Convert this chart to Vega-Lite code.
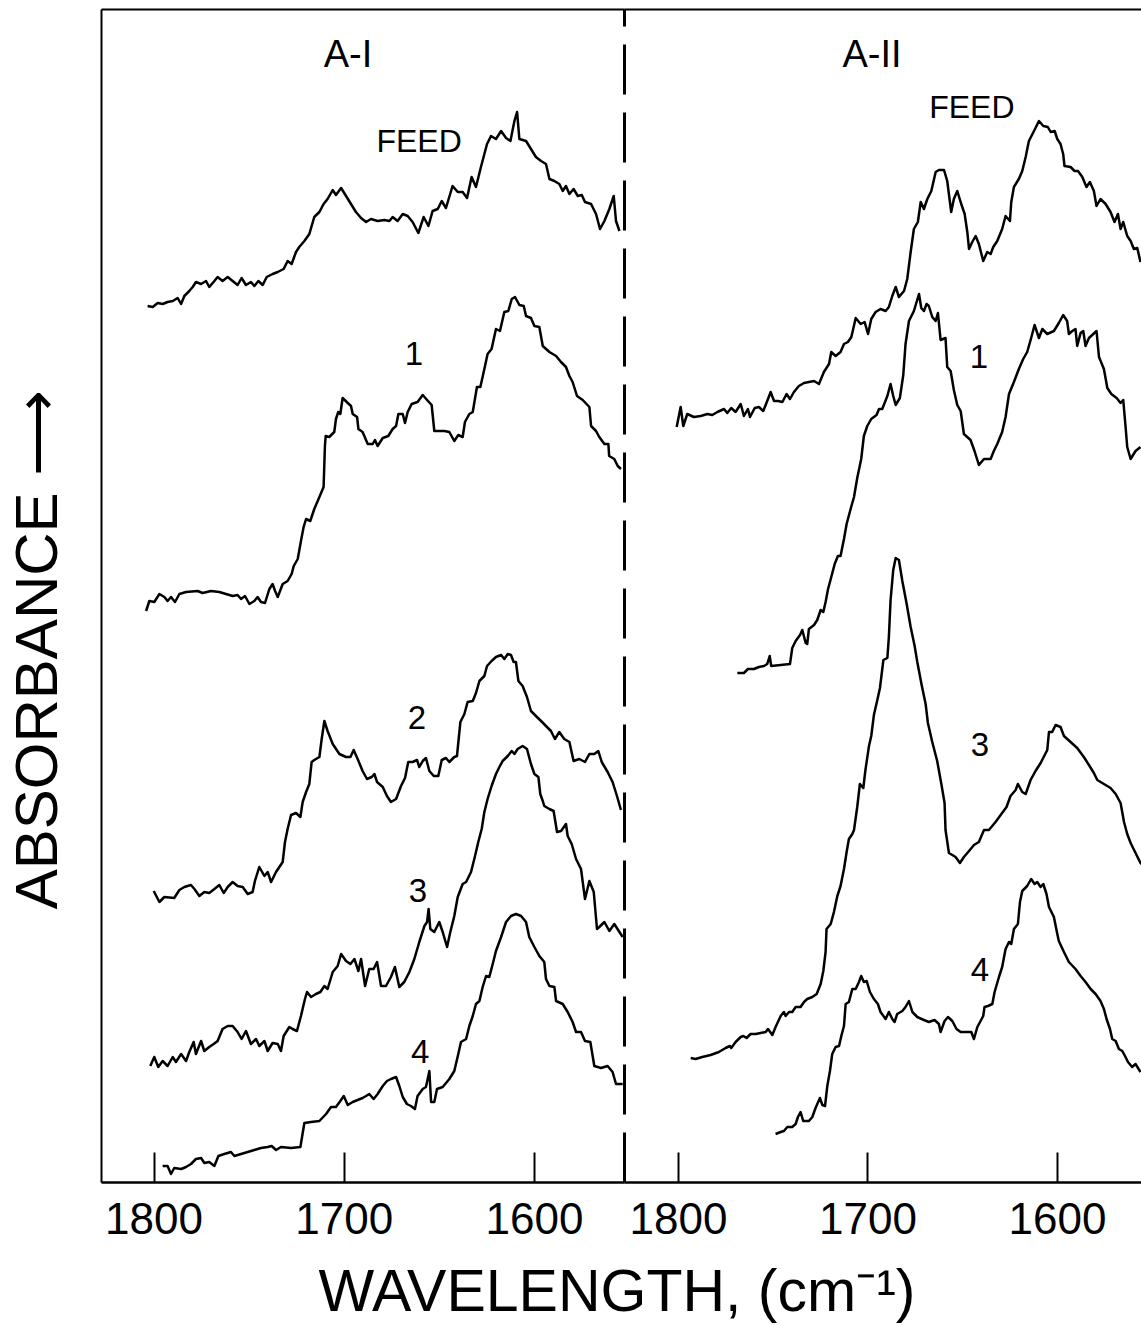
{
  "$schema": "https://vega.github.io/schema/vega-lite/v6.json",
  "background": "white",
  "padding": {"left": 8, "top": 9, "right": 0, "bottom": 5},
  "spacing": 0,
  "bounds": "flush",
  "config": {
    "view": {"stroke": null},
    "font": "Liberation Sans",
    "axis": {"grid": false, "domainColor": "black", "tickColor": "black", "labelColor": "black", "titleColor": "black"}
  },
  "title": {"text": "WAVELENGTH, (cm⁻¹)", "orient": "bottom", "anchor": "middle", "fontSize": 59, "fontWeight": "normal", "font": "Liberation Sans", "offset": 22, "dx": 42, "color": "black"},
  "datasets": {
    "labels": [
      {"p":"L","k":"head","t":"A-I","w":1697.8,"a":112.6},
      {"p":"L","k":"feed","t":"FEED","w":1660.4,"a":104.0},
      {"p":"L","k":"num","t":"1","w":1663.1,"a":82.7},
      {"p":"L","k":"num","t":"2","w":1661.5,"a":46.3},
      {"p":"L","k":"num","t":"3","w":1661.0,"a":29.0},
      {"p":"L","k":"num","t":"4","w":1659.9,"a":12.9},
      {"p":"R","k":"head","t":"A-II","w":1697.6,"a":112.6},
      {"p":"R","k":"feed","t":"FEED","w":1644.9,"a":107.4},
      {"p":"R","k":"num","t":"1","w":1641.2,"a":82.4},
      {"p":"R","k":"num","t":"3","w":1640.6,"a":43.6},
      {"p":"R","k":"num","t":"4","w":1640.6,"a":21.1}
    ],
    "left": [
      {"c":"FEED","w":1803.1,"a":87.6},{"c":"FEED","w":1800.4,"a":87.5},{"c":"FEED","w":1797.8,"a":87.9},{"c":"FEED","w":1795.2,"a":87.8},{"c":"FEED","w":1792.6,"a":88.0},{"c":"FEED","w":1789.9,"a":88.1},{"c":"FEED","w":1787.3,"a":88.4},{"c":"FEED","w":1785.5,"a":87.8},{"c":"FEED","w":1783.8,"a":88.6},{"c":"FEED","w":1781.2,"a":89.1},{"c":"FEED","w":1779.4,"a":89.5},{"c":"FEED","w":1777.7,"a":90.0},{"c":"FEED","w":1775.0,"a":89.8},{"c":"FEED","w":1772.4,"a":90.1},{"c":"FEED","w":1770.7,"a":89.5},{"c":"FEED","w":1768.0,"a":90.1},{"c":"FEED","w":1766.3,"a":90.5},{"c":"FEED","w":1763.7,"a":90.1},{"c":"FEED","w":1761.0,"a":90.5},{"c":"FEED","w":1758.4,"a":90.1},{"c":"FEED","w":1755.8,"a":89.7},{"c":"FEED","w":1753.7,"a":90.4},{"c":"FEED","w":1751.4,"a":89.7},{"c":"FEED","w":1748.8,"a":90.0},{"c":"FEED","w":1747.0,"a":89.6},{"c":"FEED","w":1744.9,"a":90.1},{"c":"FEED","w":1742.6,"a":89.7},{"c":"FEED","w":1740.5,"a":90.5},{"c":"FEED","w":1737.4,"a":90.8},{"c":"FEED","w":1734.7,"a":91.0},{"c":"FEED","w":1731.6,"a":91.3},{"c":"FEED","w":1729.5,"a":92.1},{"c":"FEED","w":1727.4,"a":91.8},{"c":"FEED","w":1725.1,"a":93.0},{"c":"FEED","w":1723.4,"a":93.5},{"c":"FEED","w":1720.7,"a":94.1},{"c":"FEED","w":1718.1,"a":94.8},{"c":"FEED","w":1715.5,"a":96.5},{"c":"FEED","w":1712.8,"a":97.0},{"c":"FEED","w":1710.6,"a":97.8},{"c":"FEED","w":1708.5,"a":98.3},{"c":"FEED","w":1705.8,"a":99.2},{"c":"FEED","w":1704.1,"a":98.7},{"c":"FEED","w":1701.4,"a":99.4},{"c":"FEED","w":1698.8,"a":98.6},{"c":"FEED","w":1696.2,"a":97.8},{"c":"FEED","w":1693.6,"a":97.0},{"c":"FEED","w":1690.9,"a":96.4},{"c":"FEED","w":1688.3,"a":96.0},{"c":"FEED","w":1685.7,"a":96.3},{"c":"FEED","w":1682.2,"a":96.1},{"c":"FEED","w":1678.7,"a":96.2},{"c":"FEED","w":1676.0,"a":96.1},{"c":"FEED","w":1674.3,"a":96.5},{"c":"FEED","w":1671.7,"a":96.1},{"c":"FEED","w":1669.0,"a":96.8},{"c":"FEED","w":1666.4,"a":96.6},{"c":"FEED","w":1663.8,"a":96.0},{"c":"FEED","w":1660.8,"a":94.9},{"c":"FEED","w":1658.0,"a":96.5},{"c":"FEED","w":1655.5,"a":95.6},{"c":"FEED","w":1653.3,"a":97.1},{"c":"FEED","w":1650.6,"a":97.3},{"c":"FEED","w":1648.5,"a":98.1},{"c":"FEED","w":1646.3,"a":97.4},{"c":"FEED","w":1642.8,"a":99.6},{"c":"FEED","w":1640.1,"a":99.0},{"c":"FEED","w":1637.5,"a":99.0},{"c":"FEED","w":1635.2,"a":98.4},{"c":"FEED","w":1632.8,"a":100.5},{"c":"FEED","w":1630.5,"a":99.5},{"c":"FEED","w":1627.9,"a":101.5},{"c":"FEED","w":1624.7,"a":103.8},{"c":"FEED","w":1622.6,"a":104.6},{"c":"FEED","w":1620.0,"a":104.3},{"c":"FEED","w":1617.3,"a":105.1},{"c":"FEED","w":1614.7,"a":104.4},{"c":"FEED","w":1612.4,"a":104.1},{"c":"FEED","w":1610.3,"a":106.1},{"c":"FEED","w":1608.9,"a":107.0},{"c":"FEED","w":1607.7,"a":104.3},{"c":"FEED","w":1604.2,"a":104.1},{"c":"FEED","w":1601.6,"a":103.3},{"c":"FEED","w":1599.0,"a":102.5},{"c":"FEED","w":1596.3,"a":102.1},{"c":"FEED","w":1593.7,"a":101.8},{"c":"FEED","w":1591.9,"a":100.3},{"c":"FEED","w":1589.3,"a":100.1},{"c":"FEED","w":1586.7,"a":99.8},{"c":"FEED","w":1584.9,"a":99.1},{"c":"FEED","w":1583.2,"a":99.6},{"c":"FEED","w":1581.4,"a":98.8},{"c":"FEED","w":1579.2,"a":99.3},{"c":"FEED","w":1577.0,"a":98.6},{"c":"FEED","w":1574.9,"a":98.7},{"c":"FEED","w":1573.2,"a":98.0},{"c":"FEED","w":1570.0,"a":97.8},{"c":"FEED","w":1567.4,"a":96.8},{"c":"FEED","w":1565.3,"a":95.3},{"c":"FEED","w":1563.0,"a":96.1},{"c":"FEED","w":1560.4,"a":97.3},{"c":"FEED","w":1558.1,"a":98.6},{"c":"FEED","w":1556.9,"a":96.1},{"c":"FEED","w":1555.1,"a":95.1},
      {"c":"1","w":1803.9,"a":57.1},{"c":"1","w":1802.2,"a":58.1},{"c":"1","w":1799.6,"a":58.0},{"c":"1","w":1796.9,"a":58.8},{"c":"1","w":1794.3,"a":58.5},{"c":"1","w":1792.6,"a":58.1},{"c":"1","w":1790.8,"a":58.5},{"c":"1","w":1788.7,"a":58.0},{"c":"1","w":1786.4,"a":58.8},{"c":"1","w":1782.9,"a":59.0},{"c":"1","w":1776.8,"a":59.1},{"c":"1","w":1774.2,"a":58.9},{"c":"1","w":1769.8,"a":59.1},{"c":"1","w":1765.4,"a":59.0},{"c":"1","w":1761.9,"a":58.8},{"c":"1","w":1758.4,"a":58.6},{"c":"1","w":1755.8,"a":58.7},{"c":"1","w":1754.0,"a":58.3},{"c":"1","w":1751.9,"a":58.6},{"c":"1","w":1749.6,"a":57.8},{"c":"1","w":1747.0,"a":58.1},{"c":"1","w":1745.3,"a":58.5},{"c":"1","w":1743.5,"a":58.0},{"c":"1","w":1741.4,"a":57.9},{"c":"1","w":1739.1,"a":59.3},{"c":"1","w":1737.4,"a":59.8},{"c":"1","w":1736.1,"a":59.1},{"c":"1","w":1734.7,"a":58.5},{"c":"1","w":1732.1,"a":59.8},{"c":"1","w":1729.5,"a":60.1},{"c":"1","w":1727.4,"a":60.8},{"c":"1","w":1726.3,"a":61.6},{"c":"1","w":1724.2,"a":62.3},{"c":"1","w":1722.5,"a":64.1},{"c":"1","w":1721.1,"a":65.5},{"c":"1","w":1719.8,"a":66.3},{"c":"1","w":1717.6,"a":66.1},{"c":"1","w":1715.5,"a":67.3},{"c":"1","w":1712.8,"a":68.5},{"c":"1","w":1710.6,"a":69.5},{"c":"1","w":1709.9,"a":73.6},{"c":"1","w":1709.5,"a":74.6},{"c":"1","w":1707.6,"a":74.5},{"c":"1","w":1705.0,"a":75.0},{"c":"1","w":1704.1,"a":76.3},{"c":"1","w":1702.9,"a":77.0},{"c":"1","w":1701.8,"a":76.8},{"c":"1","w":1700.6,"a":78.4},{"c":"1","w":1697.9,"a":77.9},{"c":"1","w":1696.2,"a":77.6},{"c":"1","w":1695.3,"a":76.8},{"c":"1","w":1693.0,"a":76.5},{"c":"1","w":1692.3,"a":75.3},{"c":"1","w":1690.1,"a":75.0},{"c":"1","w":1687.4,"a":73.8},{"c":"1","w":1684.8,"a":73.8},{"c":"1","w":1683.6,"a":74.2},{"c":"1","w":1682.2,"a":73.6},{"c":"1","w":1679.5,"a":74.4},{"c":"1","w":1676.6,"a":74.6},{"c":"1","w":1674.3,"a":75.3},{"c":"1","w":1672.5,"a":75.6},{"c":"1","w":1671.3,"a":76.8},{"c":"1","w":1669.0,"a":76.8},{"c":"1","w":1667.8,"a":75.9},{"c":"1","w":1666.4,"a":77.0},{"c":"1","w":1664.3,"a":77.8},{"c":"1","w":1661.2,"a":78.0},{"c":"1","w":1658.5,"a":78.7},{"c":"1","w":1656.2,"a":78.2},{"c":"1","w":1653.8,"a":77.7},{"c":"1","w":1652.4,"a":75.1},{"c":"1","w":1649.8,"a":75.1},{"c":"1","w":1647.1,"a":75.1},{"c":"1","w":1644.5,"a":75.0},{"c":"1","w":1641.9,"a":74.1},{"c":"1","w":1639.8,"a":74.7},{"c":"1","w":1637.5,"a":74.5},{"c":"1","w":1636.3,"a":76.0},{"c":"1","w":1634.0,"a":76.8},{"c":"1","w":1632.2,"a":77.0},{"c":"1","w":1630.0,"a":79.5},{"c":"1","w":1628.2,"a":79.5},{"c":"1","w":1626.1,"a":81.3},{"c":"1","w":1624.4,"a":82.8},{"c":"1","w":1622.3,"a":83.3},{"c":"1","w":1620.0,"a":85.3},{"c":"1","w":1617.9,"a":85.1},{"c":"1","w":1615.6,"a":87.0},{"c":"1","w":1613.5,"a":87.1},{"c":"1","w":1611.7,"a":88.3},{"c":"1","w":1610.0,"a":88.5},{"c":"1","w":1607.7,"a":87.7},{"c":"1","w":1605.4,"a":87.6},{"c":"1","w":1604.2,"a":86.6},{"c":"1","w":1601.6,"a":86.4},{"c":"1","w":1599.8,"a":85.6},{"c":"1","w":1597.2,"a":85.5},{"c":"1","w":1595.4,"a":83.6},{"c":"1","w":1591.9,"a":83.0},{"c":"1","w":1588.4,"a":82.6},{"c":"1","w":1585.8,"a":82.0},{"c":"1","w":1583.2,"a":81.5},{"c":"1","w":1581.4,"a":80.6},{"c":"1","w":1579.7,"a":80.0},{"c":"1","w":1577.4,"a":78.6},{"c":"1","w":1574.4,"a":78.2},{"c":"1","w":1570.9,"a":77.5},{"c":"1","w":1570.0,"a":75.6},{"c":"1","w":1567.4,"a":75.1},{"c":"1","w":1565.7,"a":74.5},{"c":"1","w":1563.0,"a":73.8},{"c":"1","w":1560.9,"a":73.8},{"c":"1","w":1560.5,"a":72.6},{"c":"1","w":1557.8,"a":72.3},{"c":"1","w":1556.0,"a":71.6},{"c":"1","w":1554.3,"a":71.3},
      {"c":"2","w":1799.9,"a":29.1},{"c":"2","w":1796.9,"a":28.0},{"c":"2","w":1794.3,"a":28.5},{"c":"2","w":1789.1,"a":28.4},{"c":"2","w":1786.4,"a":29.2},{"c":"2","w":1783.8,"a":29.5},{"c":"2","w":1780.3,"a":29.7},{"c":"2","w":1778.5,"a":29.3},{"c":"2","w":1775.9,"a":28.6},{"c":"2","w":1773.3,"a":29.0},{"c":"2","w":1770.7,"a":28.9},{"c":"2","w":1768.0,"a":29.3},{"c":"2","w":1765.4,"a":29.7},{"c":"2","w":1763.1,"a":28.9},{"c":"2","w":1761.0,"a":29.5},{"c":"2","w":1758.4,"a":30.0},{"c":"2","w":1755.8,"a":29.6},{"c":"2","w":1753.1,"a":29.5},{"c":"2","w":1750.5,"a":28.8},{"c":"2","w":1747.9,"a":29.0},{"c":"2","w":1746.7,"a":30.1},{"c":"2","w":1744.4,"a":31.5},{"c":"2","w":1741.7,"a":30.6},{"c":"2","w":1740.0,"a":31.0},{"c":"2","w":1738.2,"a":30.0},{"c":"2","w":1735.6,"a":31.0},{"c":"2","w":1732.1,"a":32.0},{"c":"2","w":1730.9,"a":34.0},{"c":"2","w":1729.5,"a":35.3},{"c":"2","w":1727.7,"a":36.7},{"c":"2","w":1725.1,"a":36.9},{"c":"2","w":1722.8,"a":36.5},{"c":"2","w":1721.6,"a":38.0},{"c":"2","w":1719.8,"a":39.0},{"c":"2","w":1718.1,"a":39.8},{"c":"2","w":1716.9,"a":42.0},{"c":"2","w":1715.5,"a":42.2},{"c":"2","w":1712.8,"a":42.5},{"c":"2","w":1711.6,"a":44.3},{"c":"2","w":1710.2,"a":46.1},{"c":"2","w":1708.5,"a":45.1},{"c":"2","w":1705.8,"a":43.8},{"c":"2","w":1702.3,"a":42.8},{"c":"2","w":1698.8,"a":42.5},{"c":"2","w":1696.5,"a":42.5},{"c":"2","w":1694.8,"a":43.2},{"c":"2","w":1692.7,"a":42.3},{"c":"2","w":1690.1,"a":41.1},{"c":"2","w":1687.8,"a":40.3},{"c":"2","w":1685.3,"a":40.5},{"c":"2","w":1683.9,"a":40.8},{"c":"2","w":1682.5,"a":40.0},{"c":"2","w":1679.5,"a":39.5},{"c":"2","w":1677.3,"a":38.6},{"c":"2","w":1675.2,"a":38.0},{"c":"2","w":1672.5,"a":38.3},{"c":"2","w":1669.9,"a":39.6},{"c":"2","w":1667.8,"a":40.4},{"c":"2","w":1666.1,"a":42.0},{"c":"2","w":1663.8,"a":42.0},{"c":"2","w":1661.5,"a":42.2},{"c":"2","w":1660.3,"a":41.5},{"c":"2","w":1658.5,"a":42.1},{"c":"2","w":1656.8,"a":42.4},{"c":"2","w":1655.0,"a":41.1},{"c":"2","w":1652.7,"a":40.6},{"c":"2","w":1650.3,"a":40.6},{"c":"2","w":1648.5,"a":42.2},{"c":"2","w":1646.3,"a":42.4},{"c":"2","w":1644.5,"a":42.0},{"c":"2","w":1641.9,"a":42.5},{"c":"2","w":1640.5,"a":42.6},{"c":"2","w":1638.7,"a":46.0},{"c":"2","w":1636.6,"a":46.8},{"c":"2","w":1634.9,"a":48.0},{"c":"2","w":1632.2,"a":48.1},{"c":"2","w":1630.5,"a":48.9},{"c":"2","w":1628.7,"a":50.1},{"c":"2","w":1626.1,"a":50.6},{"c":"2","w":1624.7,"a":51.6},{"c":"2","w":1622.3,"a":52.1},{"c":"2","w":1620.0,"a":52.5},{"c":"2","w":1617.3,"a":52.7},{"c":"2","w":1615.6,"a":52.3},{"c":"2","w":1613.8,"a":52.8},{"c":"2","w":1612.1,"a":52.7},{"c":"2","w":1610.7,"a":52.0},{"c":"2","w":1609.5,"a":52.0},{"c":"2","w":1608.2,"a":50.1},{"c":"2","w":1606.0,"a":49.6},{"c":"2","w":1603.7,"a":48.5},{"c":"2","w":1601.6,"a":47.1},{"c":"2","w":1599.0,"a":46.6},{"c":"2","w":1596.3,"a":46.1},{"c":"2","w":1593.7,"a":45.6},{"c":"2","w":1591.1,"a":45.1},{"c":"2","w":1589.0,"a":44.3},{"c":"2","w":1586.7,"a":45.0},{"c":"2","w":1584.1,"a":44.3},{"c":"2","w":1581.4,"a":44.0},{"c":"2","w":1579.2,"a":42.1},{"c":"2","w":1576.2,"a":42.3},{"c":"2","w":1573.2,"a":42.0},{"c":"2","w":1570.9,"a":42.8},{"c":"2","w":1568.3,"a":42.8},{"c":"2","w":1566.2,"a":43.1},{"c":"2","w":1564.4,"a":42.0},{"c":"2","w":1561.3,"a":41.0},{"c":"2","w":1558.7,"a":40.0},{"c":"2","w":1556.4,"a":38.6},{"c":"2","w":1554.3,"a":37.2},
      {"c":"3","w":1801.7,"a":11.6},{"c":"3","w":1799.6,"a":12.5},{"c":"3","w":1797.5,"a":11.5},{"c":"3","w":1795.2,"a":12.1},{"c":"3","w":1792.6,"a":11.6},{"c":"3","w":1789.9,"a":12.5},{"c":"3","w":1788.2,"a":12.0},{"c":"3","w":1785.5,"a":12.8},{"c":"3","w":1782.9,"a":12.1},{"c":"3","w":1781.2,"a":13.0},{"c":"3","w":1778.9,"a":14.0},{"c":"3","w":1777.7,"a":12.8},{"c":"3","w":1775.0,"a":14.1},{"c":"3","w":1773.3,"a":13.1},{"c":"3","w":1770.7,"a":13.5},{"c":"3","w":1768.4,"a":13.8},{"c":"3","w":1766.3,"a":14.1},{"c":"3","w":1763.7,"a":15.3},{"c":"3","w":1761.0,"a":15.6},{"c":"3","w":1758.4,"a":15.6},{"c":"3","w":1755.8,"a":15.0},{"c":"3","w":1753.7,"a":14.3},{"c":"3","w":1751.4,"a":15.1},{"c":"3","w":1748.8,"a":13.8},{"c":"3","w":1746.1,"a":14.3},{"c":"3","w":1744.4,"a":13.6},{"c":"3","w":1741.7,"a":14.1},{"c":"3","w":1740.0,"a":13.1},{"c":"3","w":1737.4,"a":13.9},{"c":"3","w":1734.7,"a":13.8},{"c":"3","w":1733.0,"a":13.1},{"c":"3","w":1731.6,"a":14.6},{"c":"3","w":1728.6,"a":15.5},{"c":"3","w":1726.9,"a":15.3},{"c":"3","w":1724.6,"a":15.1},{"c":"3","w":1722.5,"a":16.6},{"c":"3","w":1720.4,"a":18.3},{"c":"3","w":1719.3,"a":19.0},{"c":"3","w":1717.2,"a":18.5},{"c":"3","w":1714.6,"a":18.8},{"c":"3","w":1712.3,"a":19.0},{"c":"3","w":1710.2,"a":19.6},{"c":"3","w":1708.5,"a":19.3},{"c":"3","w":1705.8,"a":21.0},{"c":"3","w":1703.2,"a":21.6},{"c":"3","w":1701.4,"a":22.8},{"c":"3","w":1698.8,"a":22.1},{"c":"3","w":1696.5,"a":21.8},{"c":"3","w":1694.4,"a":22.3},{"c":"3","w":1692.3,"a":21.1},{"c":"3","w":1690.9,"a":22.3},{"c":"3","w":1688.8,"a":19.6},{"c":"3","w":1686.6,"a":21.3},{"c":"3","w":1684.3,"a":21.3},{"c":"3","w":1682.5,"a":22.0},{"c":"3","w":1680.4,"a":19.6},{"c":"3","w":1677.8,"a":19.6},{"c":"3","w":1675.2,"a":20.5},{"c":"3","w":1673.1,"a":21.5},{"c":"3","w":1670.8,"a":19.5},{"c":"3","w":1668.2,"a":20.0},{"c":"3","w":1665.5,"a":21.0},{"c":"3","w":1662.9,"a":22.3},{"c":"3","w":1660.3,"a":24.0},{"c":"3","w":1657.6,"a":25.6},{"c":"3","w":1656.2,"a":26.0},{"c":"3","w":1655.4,"a":27.3},{"c":"3","w":1654.5,"a":25.3},{"c":"3","w":1652.4,"a":25.0},{"c":"3","w":1649.8,"a":26.0},{"c":"3","w":1648.0,"a":25.0},{"c":"3","w":1645.7,"a":23.5},{"c":"3","w":1644.0,"a":25.0},{"c":"3","w":1641.9,"a":26.6},{"c":"3","w":1640.1,"a":28.5},{"c":"3","w":1637.5,"a":29.8},{"c":"3","w":1635.7,"a":30.0},{"c":"3","w":1633.1,"a":31.0},{"c":"3","w":1631.0,"a":32.6},{"c":"3","w":1629.3,"a":34.0},{"c":"3","w":1627.5,"a":35.3},{"c":"3","w":1626.1,"a":37.0},{"c":"3","w":1624.4,"a":38.3},{"c":"3","w":1622.3,"a":39.6},{"c":"3","w":1620.0,"a":40.8},{"c":"3","w":1618.2,"a":41.5},{"c":"3","w":1616.5,"a":42.1},{"c":"3","w":1613.8,"a":42.6},{"c":"3","w":1611.7,"a":43.1},{"c":"3","w":1610.3,"a":42.8},{"c":"3","w":1608.6,"a":43.3},{"c":"3","w":1606.0,"a":43.6},{"c":"3","w":1603.7,"a":43.3},{"c":"3","w":1601.6,"a":41.8},{"c":"3","w":1599.8,"a":40.8},{"c":"3","w":1597.7,"a":40.5},{"c":"3","w":1596.7,"a":38.8},{"c":"3","w":1595.4,"a":38.1},{"c":"3","w":1594.6,"a":37.6},{"c":"3","w":1591.9,"a":37.3},{"c":"3","w":1589.7,"a":37.1},{"c":"3","w":1587.9,"a":35.0},{"c":"3","w":1585.8,"a":35.1},{"c":"3","w":1583.2,"a":35.8},{"c":"3","w":1582.3,"a":34.6},{"c":"3","w":1580.2,"a":33.8},{"c":"3","w":1577.9,"a":32.3},{"c":"3","w":1575.3,"a":31.3},{"c":"3","w":1573.2,"a":28.3},{"c":"3","w":1570.9,"a":30.1},{"c":"3","w":1568.6,"a":29.0},{"c":"3","w":1566.9,"a":25.3},{"c":"3","w":1565.7,"a":25.5},{"c":"3","w":1563.0,"a":26.0},{"c":"3","w":1560.4,"a":25.1},{"c":"3","w":1557.8,"a":25.8},{"c":"3","w":1555.1,"a":25.0},{"c":"3","w":1553.4,"a":24.5},
      {"c":"4","w":1795.2,"a":1.6},{"c":"4","w":1792.6,"a":1.6},{"c":"4","w":1790.8,"a":0.8},{"c":"4","w":1789.1,"a":1.4},{"c":"4","w":1785.5,"a":1.3},{"c":"4","w":1782.9,"a":1.5},{"c":"4","w":1780.3,"a":1.8},{"c":"4","w":1777.7,"a":2.3},{"c":"4","w":1775.0,"a":2.4},{"c":"4","w":1773.3,"a":1.9},{"c":"4","w":1770.7,"a":2.0},{"c":"4","w":1768.0,"a":1.6},{"c":"4","w":1765.9,"a":2.6},{"c":"4","w":1762.8,"a":2.8},{"c":"4","w":1759.3,"a":3.0},{"c":"4","w":1757.5,"a":2.6},{"c":"4","w":1754.0,"a":2.8},{"c":"4","w":1750.5,"a":3.0},{"c":"4","w":1747.0,"a":3.2},{"c":"4","w":1743.5,"a":3.4},{"c":"4","w":1740.0,"a":3.5},{"c":"4","w":1737.9,"a":3.6},{"c":"4","w":1735.6,"a":3.2},{"c":"4","w":1733.0,"a":3.5},{"c":"4","w":1727.7,"a":3.4},{"c":"4","w":1722.8,"a":3.5},{"c":"4","w":1720.7,"a":5.9},{"c":"4","w":1717.2,"a":6.0},{"c":"4","w":1712.8,"a":6.1},{"c":"4","w":1709.3,"a":6.8},{"c":"4","w":1706.7,"a":7.5},{"c":"4","w":1704.1,"a":7.5},{"c":"4","w":1701.8,"a":8.1},{"c":"4","w":1700.0,"a":8.6},{"c":"4","w":1697.9,"a":7.7},{"c":"4","w":1695.3,"a":8.0},{"c":"4","w":1692.7,"a":8.2},{"c":"4","w":1690.1,"a":8.4},{"c":"4","w":1688.3,"a":8.6},{"c":"4","w":1686.6,"a":8.8},{"c":"4","w":1684.3,"a":8.3},{"c":"4","w":1682.2,"a":8.8},{"c":"4","w":1679.5,"a":9.6},{"c":"4","w":1677.3,"a":10.1},{"c":"4","w":1675.2,"a":10.3},{"c":"4","w":1672.5,"a":10.5},{"c":"4","w":1670.8,"a":9.6},{"c":"4","w":1669.0,"a":8.5},{"c":"4","w":1666.8,"a":7.8},{"c":"4","w":1664.7,"a":7.6},{"c":"4","w":1662.6,"a":7.3},{"c":"4","w":1661.2,"a":8.6},{"c":"4","w":1658.5,"a":9.3},{"c":"4","w":1656.8,"a":9.5},{"c":"4","w":1655.0,"a":11.1},{"c":"4","w":1654.1,"a":8.0},{"c":"4","w":1652.4,"a":8.0},{"c":"4","w":1651.0,"a":9.3},{"c":"4","w":1648.0,"a":9.5},{"c":"4","w":1644.5,"a":10.3},{"c":"4","w":1641.9,"a":11.1},{"c":"4","w":1639.8,"a":12.8},{"c":"4","w":1638.4,"a":14.0},{"c":"4","w":1635.7,"a":14.3},{"c":"4","w":1634.0,"a":15.6},{"c":"4","w":1632.2,"a":16.6},{"c":"4","w":1630.5,"a":17.8},{"c":"4","w":1628.7,"a":18.1},{"c":"4","w":1627.0,"a":19.5},{"c":"4","w":1625.2,"a":20.6},{"c":"4","w":1623.5,"a":20.5},{"c":"4","w":1621.7,"a":21.8},{"c":"4","w":1620.0,"a":23.1},{"c":"4","w":1617.3,"a":24.5},{"c":"4","w":1614.7,"a":26.0},{"c":"4","w":1612.1,"a":26.6},{"c":"4","w":1609.5,"a":26.8},{"c":"4","w":1606.8,"a":26.6},{"c":"4","w":1604.2,"a":26.0},{"c":"4","w":1602.5,"a":24.5},{"c":"4","w":1599.8,"a":23.5},{"c":"4","w":1597.2,"a":22.6},{"c":"4","w":1594.6,"a":22.0},{"c":"4","w":1593.7,"a":20.3},{"c":"4","w":1591.9,"a":19.6},{"c":"4","w":1589.3,"a":19.5},{"c":"4","w":1588.4,"a":18.1},{"c":"4","w":1584.9,"a":17.8},{"c":"4","w":1582.3,"a":17.0},{"c":"4","w":1579.7,"a":16.0},{"c":"4","w":1577.9,"a":15.0},{"c":"4","w":1575.3,"a":15.0},{"c":"4","w":1573.2,"a":14.1},{"c":"4","w":1570.4,"a":14.0},{"c":"4","w":1568.3,"a":11.6},{"c":"4","w":1564.8,"a":11.4},{"c":"4","w":1561.3,"a":11.6},{"c":"4","w":1558.7,"a":11.0},{"c":"4","w":1556.9,"a":9.8},{"c":"4","w":1553.4,"a":9.8}
    ],
    "right": [
      {"c":"FEED","w":1800.7,"a":75.5},{"c":"FEED","w":1798.6,"a":77.5},{"c":"FEED","w":1797.2,"a":75.6},{"c":"FEED","w":1795.1,"a":76.8},{"c":"FEED","w":1791.6,"a":76.5},{"c":"FEED","w":1788.0,"a":76.6},{"c":"FEED","w":1784.5,"a":76.8},{"c":"FEED","w":1781.9,"a":76.7},{"c":"FEED","w":1779.2,"a":77.0},{"c":"FEED","w":1775.7,"a":77.3},{"c":"FEED","w":1774.0,"a":76.9},{"c":"FEED","w":1771.9,"a":77.4},{"c":"FEED","w":1769.6,"a":77.0},{"c":"FEED","w":1766.9,"a":77.8},{"c":"FEED","w":1765.2,"a":76.6},{"c":"FEED","w":1763.1,"a":77.3},{"c":"FEED","w":1762.0,"a":76.5},{"c":"FEED","w":1759.5,"a":77.4},{"c":"FEED","w":1757.3,"a":77.5},{"c":"FEED","w":1755.0,"a":77.1},{"c":"FEED","w":1752.9,"a":78.1},{"c":"FEED","w":1751.1,"a":79.0},{"c":"FEED","w":1749.3,"a":78.1},{"c":"FEED","w":1747.2,"a":78.1},{"c":"FEED","w":1744.9,"a":78.0},{"c":"FEED","w":1742.7,"a":78.8},{"c":"FEED","w":1740.9,"a":78.3},{"c":"FEED","w":1738.8,"a":79.0},{"c":"FEED","w":1736.2,"a":79.6},{"c":"FEED","w":1733.5,"a":79.9},{"c":"FEED","w":1730.9,"a":80.0},{"c":"FEED","w":1728.2,"a":80.1},{"c":"FEED","w":1725.6,"a":79.8},{"c":"FEED","w":1723.0,"a":81.0},{"c":"FEED","w":1720.3,"a":81.8},{"c":"FEED","w":1719.1,"a":83.0},{"c":"FEED","w":1716.8,"a":82.6},{"c":"FEED","w":1714.2,"a":83.0},{"c":"FEED","w":1712.4,"a":83.8},{"c":"FEED","w":1710.3,"a":84.0},{"c":"FEED","w":1708.5,"a":84.5},{"c":"FEED","w":1706.2,"a":86.4},{"c":"FEED","w":1703.6,"a":85.8},{"c":"FEED","w":1701.5,"a":86.0},{"c":"FEED","w":1699.7,"a":84.8},{"c":"FEED","w":1698.0,"a":86.3},{"c":"FEED","w":1695.7,"a":87.0},{"c":"FEED","w":1693.1,"a":87.3},{"c":"FEED","w":1690.4,"a":87.1},{"c":"FEED","w":1688.7,"a":87.5},{"c":"FEED","w":1686.9,"a":88.6},{"c":"FEED","w":1685.1,"a":89.5},{"c":"FEED","w":1683.4,"a":88.5},{"c":"FEED","w":1680.7,"a":89.1},{"c":"FEED","w":1679.0,"a":90.3},{"c":"FEED","w":1677.2,"a":93.0},{"c":"FEED","w":1675.5,"a":95.3},{"c":"FEED","w":1673.4,"a":96.0},{"c":"FEED","w":1671.9,"a":98.0},{"c":"FEED","w":1670.2,"a":97.3},{"c":"FEED","w":1668.4,"a":98.3},{"c":"FEED","w":1666.3,"a":99.1},{"c":"FEED","w":1664.0,"a":101.0},{"c":"FEED","w":1662.3,"a":101.2},{"c":"FEED","w":1659.6,"a":101.2},{"c":"FEED","w":1657.9,"a":100.1},{"c":"FEED","w":1655.8,"a":97.0},{"c":"FEED","w":1654.4,"a":98.3},{"c":"FEED","w":1652.6,"a":99.1},{"c":"FEED","w":1650.5,"a":97.8},{"c":"FEED","w":1648.7,"a":96.8},{"c":"FEED","w":1647.3,"a":95.0},{"c":"FEED","w":1646.4,"a":93.3},{"c":"FEED","w":1644.7,"a":94.0},{"c":"FEED","w":1642.9,"a":94.6},{"c":"FEED","w":1641.2,"a":93.8},{"c":"FEED","w":1638.9,"a":92.1},{"c":"FEED","w":1636.8,"a":93.0},{"c":"FEED","w":1635.0,"a":92.8},{"c":"FEED","w":1633.6,"a":93.5},{"c":"FEED","w":1631.5,"a":94.1},{"c":"FEED","w":1628.9,"a":95.3},{"c":"FEED","w":1627.1,"a":96.6},{"c":"FEED","w":1624.8,"a":96.1},{"c":"FEED","w":1624.1,"a":98.0},{"c":"FEED","w":1622.7,"a":99.5},{"c":"FEED","w":1620.1,"a":100.3},{"c":"FEED","w":1618.3,"a":101.1},{"c":"FEED","w":1616.5,"a":102.5},{"c":"FEED","w":1614.8,"a":104.1},{"c":"FEED","w":1612.1,"a":105.1},{"c":"FEED","w":1609.5,"a":106.1},{"c":"FEED","w":1607.2,"a":105.6},{"c":"FEED","w":1604.8,"a":105.5},{"c":"FEED","w":1603.3,"a":105.0},{"c":"FEED","w":1601.2,"a":105.1},{"c":"FEED","w":1599.8,"a":104.3},{"c":"FEED","w":1598.1,"a":103.8},{"c":"FEED","w":1596.7,"a":102.8},{"c":"FEED","w":1596.0,"a":101.6},{"c":"FEED","w":1592.8,"a":101.5},{"c":"FEED","w":1590.7,"a":101.1},{"c":"FEED","w":1588.9,"a":101.1},{"c":"FEED","w":1586.6,"a":100.5},{"c":"FEED","w":1584.4,"a":99.5},{"c":"FEED","w":1582.6,"a":100.0},{"c":"FEED","w":1580.5,"a":99.1},{"c":"FEED","w":1579.1,"a":97.6},{"c":"FEED","w":1577.0,"a":98.3},{"c":"FEED","w":1574.3,"a":97.8},{"c":"FEED","w":1571.7,"a":97.0},{"c":"FEED","w":1569.6,"a":96.0},{"c":"FEED","w":1567.8,"a":96.8},{"c":"FEED","w":1566.4,"a":95.3},{"c":"FEED","w":1565.0,"a":96.0},{"c":"FEED","w":1562.9,"a":94.6},{"c":"FEED","w":1561.1,"a":94.1},{"c":"FEED","w":1559.4,"a":93.3},{"c":"FEED","w":1557.6,"a":93.4},{"c":"FEED","w":1555.9,"a":92.0},
      {"c":"1","w":1768.7,"a":50.9},{"c":"1","w":1765.2,"a":50.9},{"c":"1","w":1763.1,"a":51.3},{"c":"1","w":1759.9,"a":51.3},{"c":"1","w":1757.3,"a":51.5},{"c":"1","w":1754.6,"a":51.6},{"c":"1","w":1752.9,"a":51.8},{"c":"1","w":1751.6,"a":52.6},{"c":"1","w":1750.8,"a":51.6},{"c":"1","w":1745.8,"a":51.7},{"c":"1","w":1740.9,"a":51.8},{"c":"1","w":1739.7,"a":53.4},{"c":"1","w":1737.9,"a":54.1},{"c":"1","w":1735.6,"a":54.7},{"c":"1","w":1734.4,"a":55.2},{"c":"1","w":1732.6,"a":53.9},{"c":"1","w":1731.8,"a":53.8},{"c":"1","w":1730.9,"a":55.3},{"c":"1","w":1728.2,"a":55.7},{"c":"1","w":1726.5,"a":56.2},{"c":"1","w":1724.7,"a":57.2},{"c":"1","w":1723.3,"a":57.0},{"c":"1","w":1722.1,"a":58.0},{"c":"1","w":1720.8,"a":59.3},{"c":"1","w":1719.1,"a":60.5},{"c":"1","w":1717.3,"a":61.8},{"c":"1","w":1715.6,"a":62.6},{"c":"1","w":1714.2,"a":62.6},{"c":"1","w":1712.4,"a":64.3},{"c":"1","w":1711.0,"a":65.8},{"c":"1","w":1708.9,"a":67.3},{"c":"1","w":1707.1,"a":68.5},{"c":"1","w":1705.4,"a":70.4},{"c":"1","w":1703.3,"a":72.3},{"c":"1","w":1701.9,"a":74.6},{"c":"1","w":1700.1,"a":75.6},{"c":"1","w":1698.0,"a":76.3},{"c":"1","w":1695.2,"a":76.7},{"c":"1","w":1693.9,"a":77.3},{"c":"1","w":1692.2,"a":77.3},{"c":"1","w":1689.5,"a":78.6},{"c":"1","w":1687.8,"a":79.8},{"c":"1","w":1686.4,"a":78.6},{"c":"1","w":1685.1,"a":77.7},{"c":"1","w":1682.9,"a":78.4},{"c":"1","w":1681.1,"a":80.7},{"c":"1","w":1679.9,"a":83.8},{"c":"1","w":1678.1,"a":86.1},{"c":"1","w":1675.5,"a":87.1},{"c":"1","w":1672.8,"a":88.8},{"c":"1","w":1671.6,"a":87.4},{"c":"1","w":1670.2,"a":87.1},{"c":"1","w":1668.8,"a":87.8},{"c":"1","w":1667.6,"a":87.6},{"c":"1","w":1665.8,"a":86.5},{"c":"1","w":1664.0,"a":86.1},{"c":"1","w":1662.8,"a":86.9},{"c":"1","w":1661.4,"a":84.2},{"c":"1","w":1658.8,"a":84.4},{"c":"1","w":1657.9,"a":81.5},{"c":"1","w":1656.1,"a":81.1},{"c":"1","w":1654.4,"a":79.2},{"c":"1","w":1652.6,"a":77.7},{"c":"1","w":1650.8,"a":77.1},{"c":"1","w":1649.1,"a":74.8},{"c":"1","w":1645.6,"a":74.2},{"c":"1","w":1643.5,"a":73.1},{"c":"1","w":1641.2,"a":71.7},{"c":"1","w":1638.5,"a":72.3},{"c":"1","w":1635.0,"a":72.3},{"c":"1","w":1633.3,"a":73.1},{"c":"1","w":1631.5,"a":73.8},{"c":"1","w":1628.9,"a":75.0},{"c":"1","w":1627.1,"a":76.5},{"c":"1","w":1625.3,"a":78.8},{"c":"1","w":1622.7,"a":80.0},{"c":"1","w":1620.1,"a":81.3},{"c":"1","w":1617.8,"a":82.3},{"c":"1","w":1615.7,"a":83.0},{"c":"1","w":1613.6,"a":84.4},{"c":"1","w":1611.8,"a":85.7},{"c":"1","w":1609.5,"a":84.4},{"c":"1","w":1607.7,"a":85.3},{"c":"1","w":1605.1,"a":84.8},{"c":"1","w":1601.6,"a":85.1},{"c":"1","w":1599.0,"a":85.9},{"c":"1","w":1596.7,"a":86.7},{"c":"1","w":1594.6,"a":86.1},{"c":"1","w":1593.7,"a":84.8},{"c":"1","w":1591.9,"a":85.1},{"c":"1","w":1590.2,"a":85.3},{"c":"1","w":1589.3,"a":83.6},{"c":"1","w":1587.5,"a":84.9},{"c":"1","w":1586.1,"a":85.1},{"c":"1","w":1584.9,"a":83.6},{"c":"1","w":1583.1,"a":84.4},{"c":"1","w":1580.8,"a":84.8},{"c":"1","w":1579.1,"a":85.1},{"c":"1","w":1577.8,"a":82.5},{"c":"1","w":1575.2,"a":81.3},{"c":"1","w":1573.4,"a":79.4},{"c":"1","w":1571.3,"a":78.8},{"c":"1","w":1568.5,"a":78.4},{"c":"1","w":1566.4,"a":77.9},{"c":"1","w":1565.0,"a":78.2},{"c":"1","w":1563.8,"a":75.6},{"c":"1","w":1562.9,"a":73.5},{"c":"1","w":1561.1,"a":72.3},{"c":"1","w":1558.5,"a":73.1},{"c":"1","w":1555.9,"a":73.5},
      {"c":"3","w":1793.3,"a":12.4},{"c":"3","w":1790.7,"a":12.3},{"c":"3","w":1787.2,"a":12.5},{"c":"3","w":1782.8,"a":12.7},{"c":"3","w":1778.4,"a":13.0},{"c":"3","w":1774.9,"a":13.4},{"c":"3","w":1772.6,"a":13.6},{"c":"3","w":1771.9,"a":13.4},{"c":"3","w":1769.6,"a":14.0},{"c":"3","w":1766.9,"a":14.5},{"c":"3","w":1765.5,"a":14.6},{"c":"3","w":1763.8,"a":14.4},{"c":"3","w":1761.7,"a":14.8},{"c":"3","w":1759.0,"a":14.8},{"c":"3","w":1756.4,"a":14.9},{"c":"3","w":1753.7,"a":15.0},{"c":"3","w":1752.5,"a":15.3},{"c":"3","w":1750.2,"a":14.7},{"c":"3","w":1748.5,"a":15.5},{"c":"3","w":1745.8,"a":16.6},{"c":"3","w":1744.1,"a":17.0},{"c":"3","w":1743.2,"a":16.6},{"c":"3","w":1741.4,"a":17.0},{"c":"3","w":1739.7,"a":17.0},{"c":"3","w":1737.9,"a":17.5},{"c":"3","w":1735.3,"a":17.5},{"c":"3","w":1733.5,"a":18.0},{"c":"3","w":1731.8,"a":18.3},{"c":"3","w":1729.1,"a":18.5},{"c":"3","w":1726.8,"a":18.8},{"c":"3","w":1724.7,"a":19.8},{"c":"3","w":1723.3,"a":21.1},{"c":"3","w":1722.1,"a":23.0},{"c":"3","w":1721.6,"a":25.3},{"c":"3","w":1719.4,"a":25.8},{"c":"3","w":1717.7,"a":27.0},{"c":"3","w":1715.9,"a":28.6},{"c":"3","w":1714.2,"a":29.6},{"c":"3","w":1712.4,"a":31.3},{"c":"3","w":1711.0,"a":33.0},{"c":"3","w":1709.8,"a":34.3},{"c":"3","w":1708.0,"a":34.8},{"c":"3","w":1707.1,"a":35.2},{"c":"3","w":1705.4,"a":37.5},{"c":"3","w":1704.0,"a":39.8},{"c":"3","w":1702.2,"a":39.4},{"c":"3","w":1701.0,"a":41.3},{"c":"3","w":1699.2,"a":43.6},{"c":"3","w":1698.0,"a":44.6},{"c":"3","w":1696.6,"a":46.7},{"c":"3","w":1694.8,"a":48.2},{"c":"3","w":1693.4,"a":49.4},{"c":"3","w":1691.6,"a":52.2},{"c":"3","w":1689.5,"a":52.4},{"c":"3","w":1688.7,"a":54.5},{"c":"3","w":1687.8,"a":58.2},{"c":"3","w":1686.4,"a":61.2},{"c":"3","w":1685.1,"a":62.4},{"c":"3","w":1683.4,"a":62.2},{"c":"3","w":1681.6,"a":60.1},{"c":"3","w":1679.3,"a":57.8},{"c":"3","w":1677.2,"a":55.5},{"c":"3","w":1675.1,"a":53.6},{"c":"3","w":1673.7,"a":52.0},{"c":"3","w":1671.4,"a":49.7},{"c":"3","w":1669.3,"a":47.8},{"c":"3","w":1668.1,"a":45.9},{"c":"3","w":1665.8,"a":44.0},{"c":"3","w":1663.2,"a":42.1},{"c":"3","w":1661.0,"a":39.8},{"c":"3","w":1659.3,"a":37.9},{"c":"3","w":1658.8,"a":35.2},{"c":"3","w":1657.0,"a":32.9},{"c":"3","w":1655.2,"a":32.7},{"c":"3","w":1653.5,"a":32.5},{"c":"3","w":1651.2,"a":31.9},{"c":"3","w":1649.1,"a":32.5},{"c":"3","w":1646.4,"a":33.1},{"c":"3","w":1643.8,"a":33.7},{"c":"3","w":1641.2,"a":34.0},{"c":"3","w":1638.5,"a":35.2},{"c":"3","w":1635.9,"a":35.2},{"c":"3","w":1632.4,"a":36.0},{"c":"3","w":1629.7,"a":36.7},{"c":"3","w":1626.6,"a":37.5},{"c":"3","w":1624.5,"a":38.6},{"c":"3","w":1621.8,"a":39.2},{"c":"3","w":1620.6,"a":39.8},{"c":"3","w":1618.3,"a":39.0},{"c":"3","w":1616.5,"a":38.8},{"c":"3","w":1613.9,"a":40.2},{"c":"3","w":1611.3,"a":41.1},{"c":"3","w":1608.6,"a":41.9},{"c":"3","w":1605.1,"a":43.2},{"c":"3","w":1604.2,"a":45.0},{"c":"3","w":1602.5,"a":45.0},{"c":"3","w":1600.7,"a":45.7},{"c":"3","w":1598.1,"a":45.5},{"c":"3","w":1596.3,"a":44.6},{"c":"3","w":1592.8,"a":44.0},{"c":"3","w":1589.3,"a":43.4},{"c":"3","w":1585.8,"a":42.5},{"c":"3","w":1583.1,"a":41.7},{"c":"3","w":1580.5,"a":40.9},{"c":"3","w":1578.7,"a":40.2},{"c":"3","w":1575.2,"a":39.8},{"c":"3","w":1571.7,"a":39.4},{"c":"3","w":1569.0,"a":38.8},{"c":"3","w":1566.4,"a":37.9},{"c":"3","w":1564.6,"a":36.0},{"c":"3","w":1562.9,"a":34.8},{"c":"3","w":1561.1,"a":33.9},{"c":"3","w":1558.5,"a":32.9},{"c":"3","w":1555.9,"a":31.9},{"c":"3","w":1555.2,"a":31.8},
      {"c":"4","w":1748.5,"a":4.8},{"c":"4","w":1745.8,"a":5.0},{"c":"4","w":1744.1,"a":5.1},{"c":"4","w":1742.3,"a":5.5},{"c":"4","w":1739.7,"a":5.5},{"c":"4","w":1737.9,"a":5.8},{"c":"4","w":1736.7,"a":6.5},{"c":"4","w":1735.3,"a":7.0},{"c":"4","w":1733.9,"a":6.1},{"c":"4","w":1730.9,"a":6.1},{"c":"4","w":1729.1,"a":6.5},{"c":"4","w":1727.4,"a":7.4},{"c":"4","w":1725.1,"a":8.4},{"c":"4","w":1723.8,"a":7.7},{"c":"4","w":1722.4,"a":7.6},{"c":"4","w":1721.2,"a":9.6},{"c":"4","w":1719.8,"a":11.1},{"c":"4","w":1718.6,"a":12.8},{"c":"4","w":1716.8,"a":13.5},{"c":"4","w":1715.0,"a":13.6},{"c":"4","w":1713.8,"a":14.6},{"c":"4","w":1712.4,"a":15.6},{"c":"4","w":1711.5,"a":17.8},{"c":"4","w":1709.8,"a":18.0},{"c":"4","w":1708.0,"a":19.3},{"c":"4","w":1706.2,"a":19.3},{"c":"4","w":1704.5,"a":20.0},{"c":"4","w":1703.3,"a":20.6},{"c":"4","w":1701.9,"a":20.0},{"c":"4","w":1700.4,"a":20.1},{"c":"4","w":1698.7,"a":19.0},{"c":"4","w":1696.6,"a":18.3},{"c":"4","w":1694.5,"a":17.8},{"c":"4","w":1693.1,"a":17.0},{"c":"4","w":1690.4,"a":16.3},{"c":"4","w":1688.7,"a":17.0},{"c":"4","w":1686.9,"a":16.3},{"c":"4","w":1685.7,"a":16.0},{"c":"4","w":1684.3,"a":16.8},{"c":"4","w":1681.6,"a":17.1},{"c":"4","w":1679.9,"a":17.5},{"c":"4","w":1678.1,"a":18.1},{"c":"4","w":1676.3,"a":17.0},{"c":"4","w":1673.7,"a":16.5},{"c":"4","w":1670.2,"a":16.2},{"c":"4","w":1667.6,"a":16.0},{"c":"4","w":1664.6,"a":16.2},{"c":"4","w":1662.3,"a":15.8},{"c":"4","w":1661.4,"a":15.0},{"c":"4","w":1659.3,"a":16.1},{"c":"4","w":1657.5,"a":16.5},{"c":"4","w":1655.2,"a":16.1},{"c":"4","w":1653.0,"a":15.3},{"c":"4","w":1650.8,"a":15.0},{"c":"4","w":1647.3,"a":15.0},{"c":"4","w":1645.2,"a":15.0},{"c":"4","w":1643.8,"a":14.3},{"c":"4","w":1642.0,"a":15.5},{"c":"4","w":1640.3,"a":16.1},{"c":"4","w":1638.9,"a":16.6},{"c":"4","w":1638.2,"a":17.5},{"c":"4","w":1636.4,"a":17.6},{"c":"4","w":1634.1,"a":17.8},{"c":"4","w":1632.9,"a":19.0},{"c":"4","w":1630.6,"a":20.5},{"c":"4","w":1628.9,"a":21.5},{"c":"4","w":1627.1,"a":23.3},{"c":"4","w":1625.3,"a":24.0},{"c":"4","w":1624.1,"a":23.8},{"c":"4","w":1622.7,"a":25.3},{"c":"4","w":1620.6,"a":25.8},{"c":"4","w":1619.5,"a":28.0},{"c":"4","w":1618.3,"a":29.1},{"c":"4","w":1615.7,"a":29.6},{"c":"4","w":1613.6,"a":30.3},{"c":"4","w":1611.8,"a":29.8},{"c":"4","w":1610.4,"a":30.0},{"c":"4","w":1608.6,"a":29.5},{"c":"4","w":1607.2,"a":29.8},{"c":"4","w":1605.5,"a":28.8},{"c":"4","w":1604.2,"a":27.5},{"c":"4","w":1601.6,"a":26.5},{"c":"4","w":1599.8,"a":24.8},{"c":"4","w":1599.0,"a":24.1},{"c":"4","w":1596.3,"a":23.0},{"c":"4","w":1593.7,"a":22.0},{"c":"4","w":1590.2,"a":21.3},{"c":"4","w":1587.5,"a":20.6},{"c":"4","w":1584.9,"a":20.0},{"c":"4","w":1582.2,"a":19.3},{"c":"4","w":1579.6,"a":18.8},{"c":"4","w":1577.0,"a":18.1},{"c":"4","w":1575.2,"a":17.3},{"c":"4","w":1573.8,"a":16.3},{"c":"4","w":1572.0,"a":15.3},{"c":"4","w":1570.8,"a":14.3},{"c":"4","w":1569.0,"a":14.1},{"c":"4","w":1567.3,"a":13.3},{"c":"4","w":1565.5,"a":13.1},{"c":"4","w":1563.8,"a":12.5},{"c":"4","w":1562.5,"a":12.0},{"c":"4","w":1560.3,"a":11.5},{"c":"4","w":1558.5,"a":11.8},{"c":"4","w":1555.9,"a":11.0}
    ]
  },
  "hconcat": [
    {
      "width": 523,
      "height": 1173,
      "layer": [
        {
          "data": {"name": "left"},
          "mark": {"type": "line", "color": "black", "strokeWidth": 2.5, "strokeJoin": "round"},
          "encoding": {
            "x": {"field": "w", "type": "quantitative", "scale": {"domain": [1827.6, 1552.7], "nice": false, "zero": false},
                  "axis": {"orient": "bottom", "values": [1800, 1700, 1600], "format": "d", "title": null, "tickSize": -30, "tickWidth": 2, "domainWidth": 2.5, "labelFontSize": 44, "labelFont": "Liberation Sans", "labelPadding": 46, "labelBaseline": "top"}},
            "y": {"field": "a", "type": "quantitative", "scale": {"domain": [0, 117.3], "nice": false, "zero": false},
                  "axis": {"orient": "left", "ticks": false, "labels": false, "grid": false, "domain": true, "domainWidth": 2, "title": "ABSORBANCE ⟶", "titleFont": "Liberation Sans", "titleFontSize": 60, "titleFontWeight": "normal", "titleX": -45, "titleY": 640, "titleAngle": 270, "titleBaseline": "alphabetic", "titleAlign": "center"}},
            "detail": {"field": "c", "type": "nominal"}
          }
        },
        {
          "data": {"name": "labels"},
          "transform": [{"filter": "datum.p == 'L' && datum.k == 'head'"}],
          "mark": {"type": "text", "font": "Liberation Sans", "fontSize": 38, "color": "black", "align": "center", "baseline": "middle"},
          "encoding": {
            "x": {"field": "w", "type": "quantitative", "axis": {"orient": "top", "ticks": false, "labels": false, "title": null, "domainWidth": 2}},
            "y": {"field": "a", "type": "quantitative"},
            "text": {"field": "t"}
          }
        },
        {
          "data": {"name": "labels"},
          "transform": [{"filter": "datum.p == 'L' && datum.k == 'feed'"}],
          "mark": {"type": "text", "font": "Liberation Sans", "fontSize": 32, "color": "black", "align": "center", "baseline": "middle"},
          "encoding": {
            "x": {"field": "w", "type": "quantitative", "axis": null},
            "y": {"field": "a", "type": "quantitative"},
            "text": {"field": "t"}
          }
        },
        {
          "data": {"name": "labels"},
          "transform": [{"filter": "datum.p == 'L' && datum.k == 'num'"}],
          "mark": {"type": "text", "font": "Liberation Sans", "fontSize": 33, "color": "black", "align": "center", "baseline": "middle"},
          "encoding": {
            "x": {"field": "w", "type": "quantitative", "axis": null},
            "y": {"field": "a", "type": "quantitative"},
            "text": {"field": "t"}
          }
        }
      ]
    },
    {
      "width": 518,
      "height": 1173,
      "layer": [
        {
          "data": {"name": "right"},
          "mark": {"type": "line", "color": "black", "strokeWidth": 2.5, "strokeJoin": "round", "clip": true},
          "encoding": {
            "x": {"field": "w", "type": "quantitative", "scale": {"domain": [1828.5, 1555.1], "nice": false, "zero": false},
                  "axis": {"orient": "bottom", "values": [1800, 1700, 1600], "format": "d", "title": null, "tickSize": -30, "tickWidth": 2, "domainWidth": 2.5, "labelFontSize": 44, "labelFont": "Liberation Sans", "labelPadding": 46, "labelBaseline": "top"}},
            "y": {"field": "a", "type": "quantitative", "scale": {"domain": [0, 117.3], "nice": false, "zero": false},
                  "axis": {"orient": "left", "ticks": false, "labels": false, "grid": false, "domain": true, "title": null, "domainWidth": 3, "domainDash": [50, 18]}},
            "detail": {"field": "c", "type": "nominal"}
          }
        },
        {
          "data": {"name": "labels"},
          "transform": [{"filter": "datum.p == 'R' && datum.k == 'head'"}],
          "mark": {"type": "text", "font": "Liberation Sans", "fontSize": 38, "color": "black", "align": "center", "baseline": "middle"},
          "encoding": {
            "x": {"field": "w", "type": "quantitative", "axis": {"orient": "top", "ticks": false, "labels": false, "title": null, "domainWidth": 2}},
            "y": {"field": "a", "type": "quantitative"},
            "text": {"field": "t"}
          }
        },
        {
          "data": {"name": "labels"},
          "transform": [{"filter": "datum.p == 'R' && datum.k == 'feed'"}],
          "mark": {"type": "text", "font": "Liberation Sans", "fontSize": 32, "color": "black", "align": "center", "baseline": "middle"},
          "encoding": {
            "x": {"field": "w", "type": "quantitative", "axis": null},
            "y": {"field": "a", "type": "quantitative"},
            "text": {"field": "t"}
          }
        },
        {
          "data": {"name": "labels"},
          "transform": [{"filter": "datum.p == 'R' && datum.k == 'num'"}],
          "mark": {"type": "text", "font": "Liberation Sans", "fontSize": 33, "color": "black", "align": "center", "baseline": "middle"},
          "encoding": {
            "x": {"field": "w", "type": "quantitative", "axis": null},
            "y": {"field": "a", "type": "quantitative"},
            "text": {"field": "t"}
          }
        }
      ]
    }
  ]
}
